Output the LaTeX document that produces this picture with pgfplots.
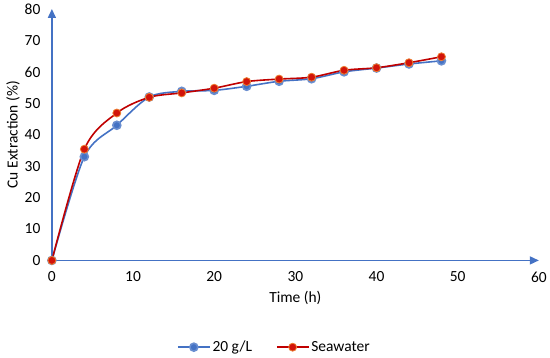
\documentclass[border=0pt]{standalone}
\usepackage{pgfplots}
\pgfplotsset{compat=1.18}
\usepackage{fontspec}
\setmainfont{Carlito}
\usetikzlibrary{calc,arrows.meta}
\definecolor{axblue}{RGB}{68,114,196}
\definecolor{serblue}{RGB}{68,114,196}
\definecolor{serred}{RGB}{192,0,0}
\definecolor{mkred}{RGB}{210,20,10}
\definecolor{mkedge}{RGB}{237,125,49}
\begin{document}
\begin{tikzpicture}
\begin{axis}[
  name=ax,
  scale only axis,
  width=488pt, height=252pt,
  xmin=0, xmax=60, ymin=0, ymax=80,
  axis lines=left,
  axis line style={axblue, line width=1.5pt, -{Triangle[length=9pt,width=8pt]}},
  xtick={0,10,...,60}, ytick={0,10,...,80},
  major tick length=0pt,
  tick style={draw=none},
  font=\fontsize{15.5}{17}\selectfont,
  /pgf/number format/assume math mode=true,
  xticklabel style={yshift=-8pt},
  yticklabel style={xshift=-8pt},
  xlabel={Time (h)},
  ylabel={Cu Extraction (\%)},
  xlabel style={yshift=-2pt},
  ylabel style={yshift=-2pt},
  clip=false,
  legend columns=2,
  legend style={draw=none, at={(0.457,-0.345)}, anchor=center, font=\fontsize{15.5}{17}\selectfont,
    /tikz/every even column/.append style={column sep=22pt}},
  legend image code/.code={\draw[mark repeat=2,mark phase=2] plot coordinates {(0cm,0cm) (0.56cm,0cm) (1.12cm,0cm)};},
]
\addplot[serblue, line width=1.6pt, smooth, mark=*, mark size=4pt, mark options={fill=serblue, draw=serblue!80}]
coordinates {(0,0) (4,33) (8,43) (12,52) (16,53.8) (20,54.1) (24,55.4) (28,57) (32,57.8) (36,60) (40,61.2) (44,62.5) (48,63.5)};
\addlegendentry{20 g/L}
\addplot[serred, line width=1.6pt, smooth, mark=*, mark size=4pt, mark options={fill=mkred, draw=mkedge, line width=0.8pt}]
coordinates {(0,0) (4,35.4) (8,46.9) (12,51.9) (16,53.3) (20,54.8) (24,56.9) (28,57.7) (32,58.3) (36,60.5) (40,61.3) (44,62.9) (48,64.8)};
\addlegendentry{Seawater}
\end{axis}
\path ($(ax.south west)+(-52pt,-97pt)$) rectangle ($(ax.north east)+(10pt,9pt)$);
\end{tikzpicture}
\end{document}
